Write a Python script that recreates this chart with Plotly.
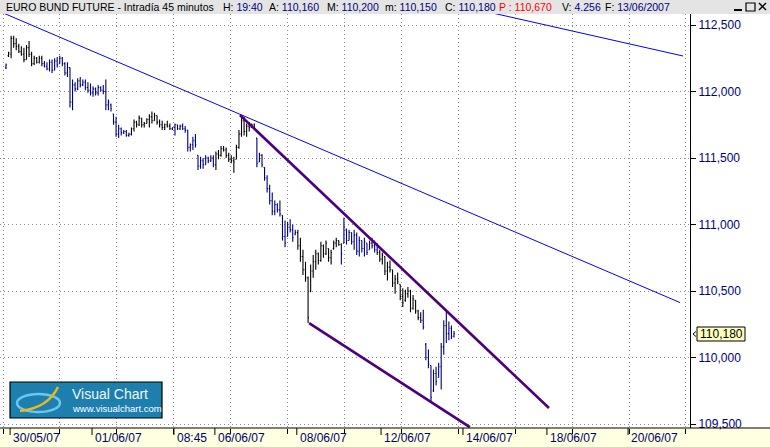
import plotly.graph_objects as go

# ---------------- data ----------------
high = [112.21,112.30,112.42,112.42,112.40,112.36,112.34,112.33,112.35,112.38,
        112.30,112.27,112.26,112.27,112.27,112.23,112.22,112.24,112.24,112.25,
        112.26,112.27,112.26,112.22,112.22,112.18,112.09,112.07,112.10,112.11,
        112.09,112.09,112.07,112.06,112.04,112.03,112.05,112.04,112.05,112.09,
        111.94,111.91,111.83,111.81,111.75,111.73,111.71,111.71,111.69,111.73,
        111.79,111.78,111.82,111.80,111.77,111.80,111.83,111.85,111.84,111.82,
        111.79,111.78,111.76,111.78,111.76,111.73,111.76,111.75,111.75,111.76,
        111.74,111.71,111.61,111.66,111.68,111.52,111.51,111.50,111.52,111.51,
        111.52,111.52,111.55,111.56,111.59,111.59,111.58,111.54,111.52,111.51,
        111.60,111.71,111.82,111.81,111.76,111.77,111.76,111.76,111.65,111.54,
        111.53,111.43,111.37,111.30,111.24,111.18,111.16,111.18,111.07,111.03,
        111.02,111.04,111.00,110.96,110.96,110.90,110.81,110.72,110.61,110.70,
        110.77,110.81,110.79,110.87,110.85,110.88,110.82,110.81,110.88,110.90,
        110.88,110.86,111.05,110.97,110.96,110.94,110.96,110.94,110.91,110.88,
        110.90,110.86,110.88,110.90,110.88,110.86,110.81,110.79,110.76,110.72,
        110.73,110.66,110.62,110.64,110.55,110.52,110.51,110.53,110.51,110.47,
        110.43,110.36,110.34,110.36,110.11,110.06,109.94,109.91,109.93,109.96,
        110.11,110.28,110.36,110.27,110.24,110.20]
low = [112.17,112.26,112.25,112.33,112.31,112.29,112.27,112.22,112.24,112.26,
       112.19,112.20,112.21,112.21,112.19,112.18,112.16,112.15,112.14,112.16,
       112.18,112.21,112.19,112.12,112.11,111.88,111.86,112.00,112.01,112.03,
       112.04,112.01,111.99,111.97,111.96,111.97,111.97,112.00,111.98,111.86,
       111.86,111.85,111.75,111.66,111.65,111.67,111.68,111.66,111.66,111.67,
       111.70,111.73,111.74,111.73,111.73,111.76,111.73,111.76,111.78,111.75,
       111.73,111.71,111.71,111.73,111.71,111.71,111.67,111.71,111.71,111.71,
       111.69,111.55,111.55,111.56,111.58,111.41,111.42,111.42,111.45,111.46,
       111.47,111.43,111.41,111.49,111.51,111.55,111.50,111.47,111.46,111.39,
       111.49,111.57,111.66,111.67,111.66,111.70,111.73,111.71,111.43,111.47,
       111.43,111.33,111.24,111.15,111.07,111.07,111.09,111.06,110.88,110.83,
       110.91,110.94,110.87,110.92,110.81,110.72,110.62,110.57,110.26,110.49,
       110.60,110.66,110.70,110.72,110.75,110.77,110.72,110.70,110.81,110.83,
       110.84,110.70,110.86,110.85,110.88,110.85,110.81,110.77,110.76,110.79,
       110.76,110.77,110.81,110.82,110.79,110.77,110.72,110.70,110.62,110.58,
       110.64,110.53,110.48,110.55,110.43,110.38,110.42,110.45,110.34,110.36,
       110.33,110.28,110.26,110.21,109.98,109.92,109.66,109.74,109.79,109.85,
       109.76,110.02,110.11,110.13,110.14,110.15]
open_ = [112.18,112.27,112.28,112.40,112.36,112.34,112.30,112.28,112.24,112.33,
         112.28,112.21,112.25,112.22,112.25,112.21,112.19,112.17,112.22,112.16,
         112.23,112.21,112.25,112.21,112.14,112.18,111.92,112.05,112.02,112.08,
         112.05,112.07,112.03,112.01,111.99,112.02,111.99,112.03,112.01,112.00,
         111.90,111.90,111.83,111.77,111.68,111.72,111.69,111.70,111.67,111.68,
         111.72,111.77,111.75,111.80,111.75,111.76,111.79,111.81,111.78,111.82,
         111.77,111.75,111.73,111.75,111.74,111.72,111.73,111.75,111.72,111.74,
         111.72,111.71,111.58,111.60,111.63,111.52,111.44,111.48,111.45,111.50,
         111.48,111.50,111.45,111.53,111.52,111.57,111.56,111.52,111.49,111.48,
         111.49,111.58,111.68,111.78,111.70,111.74,111.73,111.75,111.65,111.47,
         111.52,111.43,111.35,111.27,111.18,111.10,111.15,111.11,111.07,110.91,
         110.91,110.98,110.96,110.93,110.94,110.84,110.76,110.66,110.60,110.50,
         110.65,110.72,110.78,110.73,110.84,110.78,110.82,110.75,110.82,110.86,
         110.88,110.85,110.86,110.96,110.88,110.94,110.87,110.92,110.80,110.88,
         110.82,110.86,110.81,110.86,110.84,110.81,110.79,110.74,110.76,110.65,
         110.68,110.66,110.56,110.59,110.55,110.46,110.43,110.48,110.50,110.37,
         110.43,110.35,110.30,110.28,110.10,110.00,109.94,109.75,109.88,109.85,
         109.93,110.08,110.24,110.18,110.22,110.16]
close = [112.20,112.29,112.40,112.36,112.34,112.30,112.28,112.24,112.33,112.28,
         112.21,112.25,112.22,112.25,112.21,112.19,112.17,112.22,112.16,112.23,
         112.20,112.25,112.21,112.14,112.18,111.92,112.05,112.02,112.08,112.05,
         112.07,112.03,112.01,111.99,112.02,111.99,112.03,112.01,112.00,111.90,
         111.92,111.87,111.77,111.68,111.72,111.69,111.70,111.67,111.68,111.72,
         111.77,111.75,111.80,111.75,111.76,111.79,111.81,111.78,111.82,111.77,
         111.75,111.73,111.75,111.74,111.72,111.73,111.75,111.72,111.74,111.72,
         111.71,111.58,111.60,111.63,111.60,111.44,111.48,111.45,111.50,111.48,
         111.50,111.45,111.53,111.52,111.57,111.56,111.52,111.49,111.48,111.47,
         111.58,111.68,111.78,111.70,111.74,111.73,111.75,111.72,111.46,111.52,
         111.45,111.35,111.27,111.18,111.10,111.15,111.11,111.08,110.91,110.86,
         110.98,110.96,110.90,110.94,110.84,110.76,110.66,110.60,110.30,110.65,
         110.72,110.78,110.73,110.84,110.78,110.86,110.75,110.79,110.86,110.88,
         110.85,110.78,110.98,110.88,110.94,110.87,110.92,110.80,110.88,110.82,
         110.87,110.79,110.86,110.84,110.81,110.79,110.74,110.77,110.65,110.68,
         110.66,110.56,110.59,110.57,110.46,110.41,110.48,110.50,110.37,110.44,
         110.35,110.30,110.28,110.23,110.00,109.95,109.70,109.88,109.82,109.93,
         110.08,110.24,110.18,110.22,110.16,110.18]

# bar index ranges drawn in navy (the rest are black)
navy_ranges = [(0, 0), (15, 48), (66, 81), (98, 113), (131, 145), (163, 175)]

# bottom axis labels and their bar-index positions
date_labels = ["30/05/07", "01/06/07", "08:45", "06/06/07", "08/06/07",
               "12/06/07", "14/06/07", "18/06/07", "20/06/07"]
date_pos = [1.6, 33.6, 65.6, 81.6, 113.6, 146.5, 178.5, 211.3, 243.0]

# price axis
y_ticks = [109.5, 110.0, 110.5, 111.0, 111.5, 112.0, 112.5]
y_tick_text = ["109,500", "110,000", "110,500", "111,000", "111,500", "112,000", "112,500"]

# trend lines (bar index, price)
blue_line1_x = [-2.34, 263.3]
blue_line1_y = [112.601, 110.413]
blue_line2_x = [167.6, 264.5]
blue_line2_y = [112.688, 112.267]
purple_upper_x = [91.4, 212.1]
purple_upper_y = [111.823, 109.620]
purple_lower_x = [118.4, 181.2]
purple_lower_y = [110.259, 109.476]

last_price_text = "110,180"

# ---------------- geometry ----------------
W, H = 770, 447
ML, MR, MT, MB = 0, 80, 14, 19
PW, PH = W - ML - MR, H - MT - MB


def pxx(x):
    return (x - ML) / PW


def pxy(y):
    return (MT + PH - y) / PH


FONT = "Liberation Sans, Arial, sans-serif"
NAVY = "#000080"

navy_idx = set()
for a, b in navy_ranges:
    navy_idx.update(range(a, b + 1))

fig = go.Figure()
for color, sel in ((NAVY, lambda i: i in navy_idx), ("#000000", lambda i: i not in navy_idx)):
    idx = [i for i in range(len(high)) if sel(i)]
    fig.add_trace(go.Ohlc(
        x=idx,
        open=[open_[i] for i in idx], high=[high[i] for i in idx],
        low=[low[i] for i in idx], close=[close[i] for i in idx],
        increasing=dict(line=dict(color=color, width=1.1)),
        decreasing=dict(line=dict(color=color, width=1.1)),
        tickwidth=0.35, hoverinfo="skip", showlegend=False))

for xs, ys, col, w in ((blue_line1_x, blue_line1_y, "#0000FF", 1),
                       (blue_line2_x, blue_line2_y, "#0000FF", 1),
                       (purple_upper_x, purple_upper_y, "#4B0082", 2.6),
                       (purple_lower_x, purple_lower_y, "#4B0082", 2.6)):
    fig.add_trace(go.Scatter(x=xs, y=ys, mode="lines", line=dict(color=col, width=w),
                             hoverinfo="skip", showlegend=False))

shapes = []
annotations = []

# header bar
shapes.append(dict(type="rect", xref="paper", yref="paper", x0=pxx(0), x1=pxx(W),
                   y0=pxy(MT), y1=pxy(0), fillcolor="#E4E4E4", line=dict(width=0), layer="above"))
# bottom strip
shapes.append(dict(type="rect", xref="paper", yref="paper", x0=pxx(0), x1=pxx(W),
                   y0=pxy(H), y1=pxy(MT + PH), fillcolor="#FFFFE1", line=dict(width=0), layer="below"))
# bottom black line across full width
shapes.append(dict(type="line", xref="paper", yref="paper", x0=pxx(0), x1=pxx(W),
                   y0=0, y1=0, line=dict(color="black", width=1)))

# header text
hdr = [(4, "EURO BUND FUTURE - Intradía 45 minutos"),
       (221, "H: <span style='color:#000080'>19:40</span>"),
       (267, "A: <span style='color:#000080'>110,160</span>"),
       (325, "M: <span style='color:#000080'>110,200</span>"),
       (383, "m: <span style='color:#000080'>110,150</span>"),
       (443, "C: <span style='color:#000080'>110,180</span>"),
       (497, "<span style='color:#FF0000'>P : 110,670</span>"),
       (560, "V: <span style='color:#000080'>4.256</span>"),
       (603, "F: <span style='color:#000080'>13/06/2007</span>")]
for x, t in hdr:
    annotations.append(dict(text=t, x=pxx(x), y=pxy(7), xref="paper", yref="paper",
                            xanchor="left", yanchor="middle", showarrow=False,
                            font=dict(family=FONT, size=10.5, color="black")))

# window buttons
shapes.append(dict(type="line", xref="paper", yref="paper", x0=pxx(734), x1=pxx(742),
                   y0=pxy(10), y1=pxy(10), line=dict(color="black", width=2)))
shapes.append(dict(type="rect", xref="paper", yref="paper", x0=pxx(746), x1=pxx(755),
                   y0=pxy(3), y1=pxy(11), line=dict(color="black", width=1.2)))
shapes.append(dict(type="line", xref="paper", yref="paper", x0=pxx(759), x1=pxx(766),
                   y0=pxy(3), y1=pxy(10), line=dict(color="black", width=1.5)))
shapes.append(dict(type="line", xref="paper", yref="paper", x0=pxx(759), x1=pxx(766),
                   y0=pxy(10), y1=pxy(3), line=dict(color="black", width=1.5)))

# date ticks and labels
for lab, pos in zip(date_labels, date_pos):
    shapes.append(dict(type="line", xref="x", yref="paper", x0=pos, x1=pos,
                       y0=0, y1=-7 / PH, line=dict(color="black", width=1)))
    annotations.append(dict(text=lab, x=pos, y=pxy(438), xref="x", yref="paper",
                            xanchor="left", yanchor="middle", xshift=1, showarrow=False,
                            font=dict(family=FONT, size=12, color="#00006E")))

# last price box
shapes.append(dict(type="rect", xref="paper", yref="paper", x0=pxx(697), x1=pxx(745),
                   y0=pxy(341), y1=pxy(327), fillcolor="#FFFFC0",
                   line=dict(color="black", width=1)))
shapes.append(dict(type="path", xref="paper", yref="paper",
                   path="M %f %f L %f %f L %f %f" % (pxx(696), pxy(331.5), pxx(693), pxy(334),
                                                    pxx(696), pxy(336.5)),
                   line=dict(color="black", width=1)))
annotations.append(dict(text=last_price_text, x=pxx(721), y=pxy(334), xref="paper", yref="paper",
                        xanchor="center", yanchor="middle", showarrow=False,
                        font=dict(family=FONT, size=12, color="black")))

# Visual Chart logo
shapes.append(dict(type="rect", xref="paper", yref="paper", x0=pxx(10), x1=pxx(162),
                   y0=pxy(418), y1=pxy(382), fillcolor="#1C7FAE",
                   line=dict(color="black", width=1.2), layer="above"))
shapes.append(dict(type="circle", xref="paper", yref="paper", x0=pxx(17), x1=pxx(60),
                   y0=pxy(412), y1=pxy(394), line=dict(color="#6CC6EE", width=2.5), layer="above"))
shapes.append(dict(type="path", xref="paper", yref="paper",
                   path="M %f %f Q %f %f %f %f" % (pxx(20), pxy(411), pxx(48), pxy(408),
                                                  pxx(58), pxy(387)),
                   line=dict(color="#F2B51C", width=2.5), layer="above"))
annotations.append(dict(text="Visual Chart", x=pxx(70), y=pxy(393.5), xref="paper", yref="paper",
                        xanchor="left", yanchor="middle", showarrow=False,
                        font=dict(family=FONT, size=14, color="#F0F4F8")))
annotations.append(dict(text="www.visualchart.com", x=pxx(70), y=pxy(408), xref="paper",
                        yref="paper", xanchor="left", yanchor="middle", showarrow=False,
                        font=dict(family=FONT, size=9.5, color="white")))

fig.update_layout(
    width=W, height=H,
    margin=dict(l=ML, r=MR, t=MT, b=MB, pad=0),
    paper_bgcolor="white", plot_bgcolor="white",
    showlegend=False,
    shapes=shapes, annotations=annotations,
    xaxis=dict(range=[-2.344, 267.19], showgrid=True, gridcolor="#8C8C8C",
               griddash="1px,3px", gridwidth=1, tickmode="linear",
               tick0=21.09, dtick=22.23, ticks="outside", ticklen=5, tickcolor="black",
               showticklabels=False, zeroline=False, showline=False,
               rangeslider=dict(visible=False), fixedrange=True),
    yaxis=dict(range=[109.470, 112.583], side="right", tickmode="array",
               tickvals=y_ticks, ticktext=y_tick_text, showgrid=True,
               gridcolor="#8C8C8C", griddash="1px,3px", gridwidth=1,
               ticks="outside", ticklen=5, tickcolor="black",
               tickfont=dict(family=FONT, size=12, color=NAVY),
               showline=True, linecolor="black", linewidth=1, mirror=False,
               zeroline=False, fixedrange=True),
)

fig.write_html("out.html", config={"displayModeBar": False},
               post_script="document.body.style.margin='0';document.body.style.overflow='hidden';")
